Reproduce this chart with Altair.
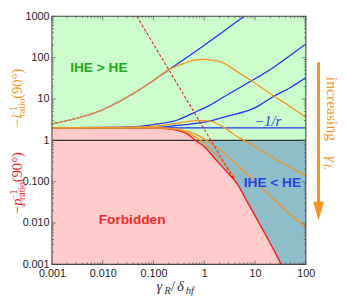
import altair as alt
import pandas as pd

W, H = 260, 254

# ---- data ----
red_x = [0.001, 0.1, 0.2, 0.3, 0.45, 0.67, 1.0, 1.63, 2.8, 4.3, 7.0, 12.0, 20.0, 33.0]
red_y = [2.0, 1.98, 1.9, 1.75, 1.45, 1.0, 0.7, 0.36, 0.17, 0.095, 0.033, 0.01, 0.0032, 0.001]

dash_x = [0.047, 4.3]
dash_y = [1000, 0.092]

b1_x = [0.001, 0.01, 0.05, 0.1, 0.2, 0.5, 1, 2, 4, 6.1]
b1_y = [2.5, 5.5, 16, 28, 51, 110, 200, 370, 690, 1000]
b2_x = [0.001, 0.03, 0.1, 0.3, 0.59, 1.3, 2.5, 7, 23, 50, 100]
b2_y = [2.0, 2.1, 2.4, 3.1, 4.5, 7.1, 11.5, 24, 58, 115, 215]
b3_x = [0.001, 0.1, 0.3, 1.0, 3.0, 9.6, 23, 50, 100]
b3_y = [2.0, 2.05, 2.3, 2.75, 3.9, 6.0, 11.5, 19, 33]
b4_x = [0.001, 100]
b4_y = [2.0, 2.0]

o1_x = [0.001, 0.01, 0.05, 0.1, 0.2, 0.4, 0.7, 1.0, 1.5, 2.2, 4, 9.6, 23, 50, 100]
o1_y = [2.5, 5.5, 16, 28, 51, 73, 89, 91, 86, 78, 50, 25, 12, 6.5, 3.6]
o2_x = [0.001, 0.05, 0.114, 0.3, 0.77, 1.3, 2.2, 4, 6, 10, 23, 50, 100]
o2_y = [2.0, 2.1, 2.22, 2.6, 3.05, 2.9, 2.2, 1.35, 1.0, 0.7, 0.38, 0.22, 0.14]
o3_x = [0.001, 0.1, 0.3, 0.5, 0.77, 1.04, 2, 4.5, 10, 23, 50, 100]
o3_y = [2.0, 2.0, 1.85, 1.6, 1.3, 1.05, 0.6, 0.25, 0.1, 0.038, 0.016, 0.008]
o4_x = [0.001, 0.1, 0.3, 0.59, 1.0, 2.2, 4.0]
o4_y = [2.0, 1.99, 1.85, 1.3, 0.85, 0.32, 0.125]

unit_x = [0.001, 100]
unit_y = [1.0, 1.0]

x_major = [0.001, 0.01, 0.1, 1, 10, 100]
y_major = [0.001, 0.01, 0.1, 1, 10, 100, 1000]
x_minor = [m * d for d in x_major[:-1] for m in range(2, 10)]
y_minor = [m * d for d in y_major[:-1] for m in range(2, 10)]

GREEN_FILL = "#ccfccc"
PINK_FILL = "#ffcaca"
TEAL_FILL = "#8fbdc9"
BLUE = "#2233ee"
ORANGE = "#f7941d"
RED = "#ee1c1c"
SANS = "Liberation Sans"
SERIF = "Liberation Serif"

lab_expr = ("datum.value < 0.005 ? '0.001' : datum.value < 0.05 ? '0.010' : "
            "datum.value < 0.5 ? '0.100' : format(datum.value, '.0f')")
xaxis = alt.Axis(values=x_major, labelExpr=lab_expr, ticks=False, domain=False, grid=False,
                 title=None, labelFont=SANS, labelFontSize=11, labelColor="#222",
                 labelPadding=3, labelOverlap=False, labelFlush=False)
yaxis = alt.Axis(values=y_major, labelExpr=lab_expr, ticks=False, domain=False, grid=False,
                 title=None, labelFont=SANS, labelFontSize=11, labelColor="#222",
                 labelPadding=3, labelOverlap=False, labelFlush=False)
xs = alt.Scale(type="log", domain=[0.001, 100], nice=False)
ys = alt.Scale(type="log", domain=[0.001, 1000], nice=False)


def X(f):
    return alt.X(f, type="quantitative", scale=xs, axis=xaxis)


def Y(f):
    return alt.Y(f, type="quantitative", scale=ys, axis=yaxis)


def series(pairs):
    rows = []
    for name, xx, yy in pairs:
        for a, b in zip(xx, yy):
            rows.append({"id": name, "x": a, "y": b})
    return pd.DataFrame(rows)


one = pd.DataFrame({"a": [0]})

regions = pd.DataFrame({"x1": [0.001, 0.001], "x2": [100, 100],
                        "y1": [1, 0.001], "y2": [1000, 1], "r": ["g", "t"]})
green = alt.Chart(regions[regions.r == "g"]).mark_rect(color=GREEN_FILL).encode(
    x=X("x1"), x2="x2", y=Y("y1"), y2="y2")
teal = alt.Chart(regions[regions.r == "t"]).mark_rect(color=TEAL_FILL).encode(
    x=X("x1"), x2="x2", y=Y("y1"), y2="y2")

red_df = pd.DataFrame({"x": red_x, "y": red_y, "lo": [0.001] * len(red_x)})
pink = alt.Chart(red_df).mark_area(color=PINK_FILL, clip=True, interpolate="monotone").encode(
    x=X("x"), y=Y("y"), y2="lo")

unit_line = alt.Chart(pd.DataFrame({"x": unit_x, "y": unit_y})).mark_line(
    color="#333333", strokeWidth=1.3).encode(x=X("x"), y=Y("y"))

red_line = alt.Chart(red_df).mark_line(color=RED, strokeWidth=1.4, clip=True,
                                       interpolate="monotone").encode(x=X("x"), y=Y("y"))

blue_df = series([("b1", b1_x, b1_y), ("b2", b2_x, b2_y), ("b3", b3_x, b3_y), ("b4", b4_x, b4_y)])
blue_lines = alt.Chart(blue_df).mark_line(color=BLUE, strokeWidth=1.3, clip=True,
                                          interpolate="monotone").encode(
    x=X("x"), y=Y("y"), detail="id:N")

orange_df = series([("o1", o1_x, o1_y), ("o2", o2_x, o2_y), ("o3", o3_x, o3_y), ("o4", o4_x, o4_y)])
orange_lines = alt.Chart(orange_df).mark_line(color=ORANGE, strokeWidth=1.3, clip=True,
                                              interpolate="monotone").encode(
    x=X("x"), y=Y("y"), detail="id:N")

dash_line = alt.Chart(pd.DataFrame({"x": dash_x, "y": dash_y})).mark_line(
    color=RED, strokeWidth=1.1, strokeDash=[3, 2], clip=True).encode(x=X("x"), y=Y("y"))

labels_df = pd.DataFrame({
    "x": [0.0084, 0.038, 22],
    "y": [57, 0.0115, 0.091],
    "t": ["IHE > HE", "Forbidden", "IHE < HE"],
    "c": ["#22a822", "#ee2a2a", "#1f45e8"],
})
region_labels = alt.Chart(labels_df).mark_text(font=SANS, fontSize=14, fontWeight="bold").encode(
    x=X("x"), y=Y("y"), text="t:N", color=alt.Color("c:N", scale=None))

r_label = alt.Chart(pd.DataFrame({"x": [17.8], "y": [2.9], "t": ["\u22121/r"]})).mark_text(
    font=SERIF, fontSize=15, fontStyle="italic", color="#2244dd").encode(
    x=X("x"), y=Y("y"), text="t:N")


# ---- frame ticks ----
def tick_layers():
    out = []
    for vals, ln in ((x_major, 4), (x_minor, 2)):
        d = pd.DataFrame({"v": vals})
        out.append(alt.Chart(d).mark_rule(color="#666", strokeWidth=0.8).encode(
            x=X("v"), y=alt.value(H), y2=alt.value(H - ln)))
        out.append(alt.Chart(d).mark_rule(color="#666", strokeWidth=0.8).encode(
            x=X("v"), y=alt.value(0), y2=alt.value(ln)))
    for vals, ln in ((y_major, 4), (y_minor, 2)):
        d = pd.DataFrame({"v": vals})
        out.append(alt.Chart(d).mark_rule(color="#666", strokeWidth=0.8).encode(
            y=Y("v"), x=alt.value(0), x2=alt.value(ln)))
        out.append(alt.Chart(d).mark_rule(color="#666", strokeWidth=0.8).encode(
            y=Y("v"), x=alt.value(W), x2=alt.value(W - ln)))
    return out


frame = alt.Chart(one).mark_rect(fillOpacity=0, stroke="#444", strokeWidth=1.1).encode(
    x=alt.value(0), x2=alt.value(W), y=alt.value(0), y2=alt.value(H))


def ptext(txt, x, y, **kw):
    return alt.Chart(one).mark_text(text=txt, **kw).encode(x=alt.value(x), y=alt.value(y))


def ytitle_part(main, start, color):
    rot = dict(angle=270, align="left", baseline="alphabetic", font=SERIF, color=color)
    w_main = 12.5 if main.endswith("i") else 16
    sub_start = start - w_main
    return [
        ptext(main, -31, start, fontSize=15, fontStyle="italic", **rot),
        ptext("\u22121", -35.5, sub_start, fontSize=10, **rot),
        ptext("ratio", -27.5, sub_start, fontSize=10, **rot),
        ptext("(90\u00b0)", -31, sub_start - 18, fontSize=15, **rot),
    ]


ytitle = ytitle_part("\u2212i", 115, ORANGE) + ytitle_part("\u2212p", 204, RED)

# x title
XT = 281.5
xtitle = [
    ptext("\u03b3", 107, XT, align="left", baseline="alphabetic", font=SERIF,
          fontSize=15, fontStyle="italic", color="#333"),
    ptext("R", 115, XT + 3, align="left", baseline="alphabetic", font=SERIF,
          fontSize=11, fontStyle="italic", color="#333"),
    ptext("/", 122, XT, align="left", baseline="alphabetic", font=SERIF,
          fontSize=15, color="#333"),
    ptext("\u03b4", 128, XT, align="left", baseline="alphabetic", font=SERIF,
          fontSize=15, fontStyle="italic", color="#333"),
    ptext("hf", 137, XT + 3, align="left", baseline="alphabetic", font=SERIF,
          fontSize=11, fontStyle="italic", color="#333"),
]

# right annotation
arrow_line = alt.Chart(one).mark_rule(color=ORANGE, strokeWidth=3).encode(
    x=alt.value(273), y=alt.value(47), y2=alt.value(192))
arrow_head = alt.Chart(one).mark_point(shape="M-0.58,-1L0.58,-1L0,1Z", filled=True,
                                       color=ORANGE, opacity=1, size=361, strokeWidth=0).encode(
    x=alt.value(273), y=alt.value(199.5))
annot = [
    ptext("increasing ", 282, 62, angle=90, align="left", baseline="alphabetic",
          font=SERIF, fontSize=16, color=ORANGE),
    ptext("\u03b3", 282, 143, angle=90, align="left", baseline="alphabetic",
          font=SERIF, fontSize=16, fontStyle="italic", color=ORANGE),
    ptext("L", 278.5, 151, angle=90, align="left", baseline="alphabetic",
          font=SERIF, fontSize=11, fontStyle="italic", color=ORANGE),
]

chart = alt.layer(
    green, teal, pink, unit_line, red_line, blue_lines, orange_lines, dash_line,
    region_labels, r_label, *tick_layers(), frame, *ytitle, *xtitle,
    arrow_line, arrow_head, *annot,
).properties(
    width=W, height=H,
    padding={"left": 45, "top": 5, "right": 35, "bottom": 33},
    autosize=alt.AutoSizeParams(type="none"),
).configure_view(strokeWidth=0)

chart.save("out.html", embed_options={"renderer": "svg", "actions": False})
